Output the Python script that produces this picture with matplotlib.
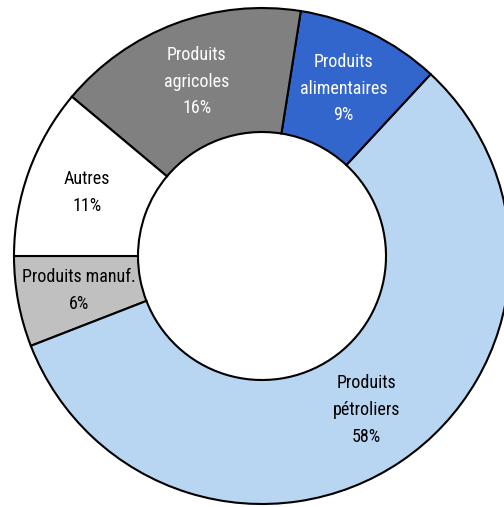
import numpy as np
import matplotlib.pyplot as plt

plt.rcParams['font.family'] = ['Roboto Condensed', 'DejaVu Sans']

# Data (counter-clockwise from 9 o'clock)
categories = ['Produits manuf.', 'Produits\npétroliers', 'Produits\nalimentaires',
              'Produits\nagricoles', 'Autres']
shares = [5.9, 57.2, 9.4, 16.4, 11.1]
pct_labels = ['6%', '58%', '9%', '16%', '11%']
colors = ['#C0C0C0', '#B8D5F2', '#3366CC', '#808080', '#FFFFFF']
text_colors = ['black', 'black', 'white', 'white', 'black']

fig = plt.figure(figsize=(5.04, 5.07), dpi=100)
W, H = 504, 507
cx, cy, r = 262, 507 - 256, 248
ax = fig.add_axes([(cx - r) / W, (cy - r) / H, 2 * r / W, 2 * r / H])

wedges, _ = ax.pie(shares, colors=colors, startangle=180, counterclock=True,
                   radius=1.0,
                   wedgeprops=dict(width=0.5, edgecolor='black', linewidth=1.5))

for w, cat, pct, tc in zip(wedges, categories, pct_labels, text_colors):
    mid = np.deg2rad((w.theta1 + w.theta2) / 2)
    ax.text(0.75 * np.cos(mid), 0.75 * np.sin(mid), f'{cat}\n{pct}',
            ha='center', va='center', color=tc, fontsize=13, linespacing=1.62)

ax.set_xlim(-1, 1)
ax.set_ylim(-1, 1)
ax.set_aspect('auto')
ax.axis('off')

fig.savefig('out.png', dpi=100)
